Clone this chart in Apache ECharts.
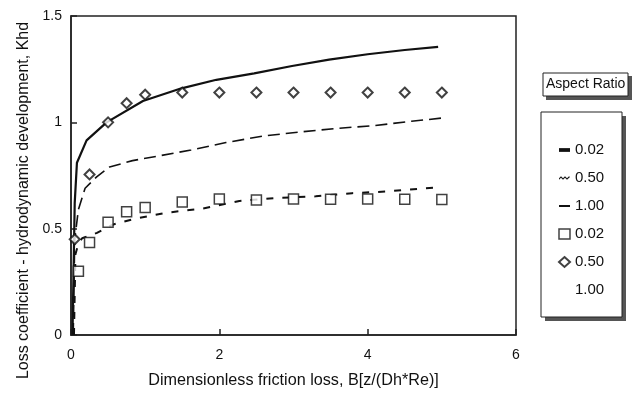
<!DOCTYPE html>
<html><head><meta charset="utf-8">
<script src="https://cdn.jsdelivr.net/npm/echarts@6/dist/echarts.min.js"></script>
<style>html,body{margin:0;padding:0;background:#fff}#c{width:638px;height:394px}</style>
</head><body><div id="c"></div>
<script>
// Model curves (x, Khd)
const ar002Model = [[0.04,0],[0.06,0.38],[0.1,0.43],[0.15,0.455],[0.35,0.48],[0.57,0.52],[0.84,0.545],[1.29,0.575],[1.78,0.595],[2.27,0.63],[2.8,0.645],[3.3,0.652],[3.79,0.667],[4.26,0.675],[4.78,0.69],[5.0,0.695]];
const ar050Model = [[0.03,0],[0.05,0.45],[0.1,0.59],[0.19,0.69],[0.35,0.745],[0.52,0.79],[0.83,0.82],[1.15,0.84],[1.62,0.87],[2.09,0.905],[2.58,0.935],[3.1,0.955],[3.6,0.972],[4.1,0.985],[4.59,1.005],[5.0,1.02]];
const ar100Model = [[0.02,0],[0.05,0.62],[0.08,0.81],[0.21,0.915],[0.48,1.0],[0.97,1.1],[1.49,1.16],[1.96,1.2],[2.47,1.23],[2.98,1.265],[3.48,1.295],[4.0,1.32],[4.5,1.34],[4.95,1.355]];
// Experimental points
const ar002Exp = [[0.1,0.30],[0.25,0.435],[0.5,0.53],[0.75,0.58],[1.0,0.60],[1.5,0.625],[2.0,0.64],[2.5,0.635],[3.0,0.64],[3.5,0.638],[4.0,0.64],[4.5,0.638],[5.0,0.637]];
const ar050Exp = [[0.05,0.45],[0.25,0.755],[0.5,1.0],[0.75,1.09],[1.0,1.13],[1.5,1.14],[2.0,1.14],[2.5,1.14],[3.0,1.14],[3.5,1.14],[4.0,1.14],[4.5,1.14],[5.0,1.14]];
const ar100Exp = [];
const seriesNames = ['0.02','0.50','1.00','0.02 ','0.50 ','1.00 '];
const xTicks = [0,2,4,6];
const yTicks = [0,0.5,1,1.5];

const font = 'Liberation Sans, Arial, sans-serif';
const chart = echarts.init(document.getElementById('c'));
chart.setOption({
  animation:false,
  backgroundColor:'#fff',
  textStyle:{fontFamily:font,color:'#111'},
  grid:{left:71,right:122,top:16,bottom:53,show:true,borderColor:'#222',borderWidth:1.5,backgroundColor:'transparent'},
  xAxis:{type:'value',min:xTicks[0],max:xTicks[xTicks.length-1],interval:2,
    name:'Dimensionless friction loss, B[z/(Dh*Re)]',nameLocation:'middle',nameGap:38,
    nameTextStyle:{fontSize:16.2,color:'#111',fontFamily:font},
    axisLine:{show:true,lineStyle:{color:'#222',width:1.5}},
    axisTick:{show:true,inside:true,length:6,lineStyle:{color:'#222',width:1.5}},
    axisLabel:{fontSize:14,color:'#111',margin:13,fontFamily:font},
    splitLine:{show:false}},
  yAxis:{type:'value',min:yTicks[0],max:yTicks[yTicks.length-1],interval:0.5,
    name:'Loss coefficient - hydrodynamic development, Khd',nameLocation:'middle',nameGap:36,
    nameTextStyle:{fontSize:16,color:'#111',fontFamily:font,padding:[0,50,0,0]},
    axisLine:{show:true,lineStyle:{color:'#222',width:1.5}},
    axisTick:{show:true,inside:true,length:6,lineStyle:{color:'#222',width:1.5}},
    axisLabel:{fontSize:14,color:'#111',margin:9,fontFamily:font},
    splitLine:{show:false}},
  graphic:[
    {type:'rect',shape:{x:546,y:76,width:86,height:24},style:{fill:'#555'},z:1},
    {type:'rect',shape:{x:543,y:73,width:85,height:23},style:{fill:'#fff',stroke:'#222',lineWidth:1},z:2},
    {type:'text',left:546,top:77,style:{text:'Aspect Ratio',fontSize:14,fontFamily:font,fill:'#111'},z:3},
    {type:'rect',shape:{x:545,y:116,width:81,height:205},style:{fill:'#555'},z:1},
    {type:'rect',shape:{x:541,y:112,width:81,height:205},style:{fill:'#fff',stroke:'#222',lineWidth:1},z:2}
  ],
  legend:{orient:'vertical',left:553,top:137,itemWidth:11,itemHeight:10,itemGap:12,
    textStyle:{fontSize:15,lineHeight:16,color:'#111',fontFamily:font},
    formatter:n=>n.trim(),z:5,
    data:[
      {name:seriesNames[0],icon:'path://M0,0h7v2.4h-7z'},
      {name:seriesNames[1],icon:'path://M0,3L2,1L4,3L6,1L8,3L10,1L11,1.8L8,4.5L6,2.5L4,4.5L2,2.5L0,4.5Z'},
      {name:seriesNames[2],icon:'path://M0,0h12v2.2h-12z'},
      {name:seriesNames[3],icon:'rect',itemStyle:{color:'#fff',borderColor:'#111',borderWidth:1.5}},
      {name:seriesNames[4],icon:'diamond',itemStyle:{color:'#fff',borderColor:'#111',borderWidth:2}},
      {name:seriesNames[5],icon:'rect',itemStyle:{color:'transparent',borderColor:'transparent',borderWidth:0}}
    ]},
  series:[
    {name:seriesNames[0],type:'line',data:ar002Model,symbol:'none',lineStyle:{color:'#111',width:2,type:[7,9]},itemStyle:{color:'#111'}},
    {name:seriesNames[1],type:'line',data:ar050Model,symbol:'none',lineStyle:{color:'#111',width:1.6,type:[12,6]},itemStyle:{color:'#111'}},
    {name:seriesNames[2],type:'line',data:ar100Model,symbol:'none',lineStyle:{color:'#111',width:2.2},itemStyle:{color:'#111'}},
    {name:seriesNames[3],type:'scatter',data:ar002Exp,symbol:'rect',symbolSize:10,itemStyle:{color:'#fff',borderColor:'#111',borderWidth:1.5},z:4},
    {name:seriesNames[4],type:'scatter',data:ar050Exp,symbol:'diamond',symbolSize:10,itemStyle:{color:'#fff',borderColor:'#111',borderWidth:2},z:4},
    {name:seriesNames[5],type:'scatter',data:ar100Exp,symbol:'circle',symbolSize:8,itemStyle:{color:'transparent',borderColor:'transparent'}}
  ]
});
</script></body></html>
